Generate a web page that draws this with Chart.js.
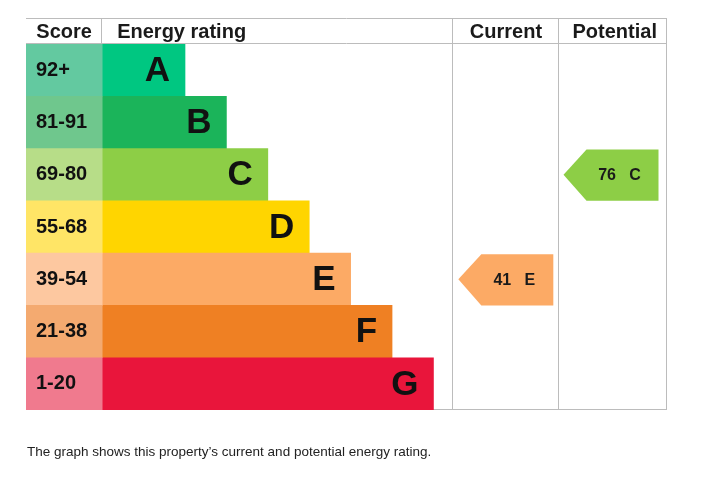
<!DOCTYPE html>
<html>
<head>
<meta charset="utf-8">
<script src="https://cdn.jsdelivr.net/npm/chart.js@4.4.0/dist/chart.umd.min.js"></script>
<style>
  html, body { margin: 0; padding: 0; background: #fff; }
  #wrap { position: relative; width: 711px; height: 485px; }
  #caption {
    position: absolute; left: 27px; top: 444px;
    font: 13.5px "Liberation Sans", Arial, sans-serif; color: #222;
  }
</style>
</head>
<body>
<div id="wrap">
  <canvas id="epc"></canvas>
  <div id="caption">The graph shows this property’s current and potential energy rating.</div>
</div>
<script>
// Bands, score ranges and colours
const bands = ['A', 'B', 'C', 'D', 'E', 'F', 'G'];
const scoreLabels = ['92+', '81-91', '69-80', '55-68', '39-54', '21-38', '1-20'];
const bandMin = [92, 81, 69, 55, 39, 21, 1];
const barLengths = [2, 3, 4, 5, 6, 7, 8];
const barColors = ['#00c781', '#1bb45a', '#8dce46', '#ffd500', '#fcaa65', '#ef8023', '#e9153b'];
const scoreColors = ['#63c9a0', '#6fc78d', '#b7dd88', '#ffe566', '#fdc8a0', '#f4aa70', '#f07a8e'];

// Current / potential ratings
const currentScore = 41;
const potentialScore = 76;

// Column edges in x-axis units: score | energy rating | current | potential
const colEdges = [0, 1.84, 10.32, 12.86, 15.48];
const headers = ['Score', 'Energy rating', 'Current', 'Potential'];

const FONT = '"Liberation Sans", Arial, sans-serif';
const gridColor = '#bcbcbc';

const bandOf = (score) => bandMin.findIndex(m => score >= m);

// grid lines + headers, drawn under the bars
const tablePlugin = {
  id: 'table',
  beforeDatasetsDraw(chart) {
    const { ctx, chartArea: a, scales: { x } } = chart;
    const top = 18;
    ctx.save();
    ctx.strokeStyle = gridColor;
    ctx.lineWidth = 1;
    ctx.beginPath();
    ctx.moveTo(a.left, top + 0.5); ctx.lineTo(a.right, top + 0.5);
    ctx.moveTo(a.left, a.top - 0.5); ctx.lineTo(a.right, a.top - 0.5);
    ctx.moveTo(a.left, a.bottom - 0.5); ctx.lineTo(a.right, a.bottom - 0.5);
    const xs = colEdges.slice(1).map(v => Math.round(x.getPixelForValue(v)) - 0.5);
    ctx.moveTo(xs[0], top); ctx.lineTo(xs[0], a.top);
    for (let i = 1; i < xs.length; i++) {
      ctx.moveTo(xs[i], top); ctx.lineTo(xs[i], a.bottom);
    }
    ctx.stroke();

    ctx.fillStyle = '#1a1a1a';
    ctx.font = 'bold 20px ' + FONT;
    ctx.textBaseline = 'middle';
    const hy = (top + a.top) / 2 + 1;
    const px = colEdges.map(v => x.getPixelForValue(v));
    ctx.textAlign = 'center';
    ctx.fillText(headers[0], (px[0] + px[1]) / 2, hy);
    ctx.textAlign = 'left';
    ctx.fillText(headers[1], px[1] + 15, hy);
    ctx.textAlign = 'center';
    ctx.fillText(headers[2], (px[2] + px[3]) / 2, hy);
    ctx.fillText(headers[3], (px[3] + px[4]) / 2 + 2, hy);
    ctx.restore();
  }
};

// letters, score labels and the rating arrows
const labelPlugin = {
  id: 'labels',
  afterDatasetsDraw(chart) {
    const { ctx, scales: { x, y } } = chart;
    const rowH = y.getPixelForValue(1) - y.getPixelForValue(0);
    ctx.save();
    ctx.textBaseline = 'middle';
    ctx.fillStyle = '#111';
    bands.forEach((b, i) => {
      const cy = y.getPixelForValue(i);
      ctx.font = 'bold 20px ' + FONT;
      ctx.textAlign = 'left';
      ctx.fillText(scoreLabels[i], x.getPixelForValue(colEdges[0]) + 10, cy);
      ctx.font = 'bold 35px ' + FONT;
      ctx.textAlign = 'right';
      ctx.fillText(b, x.getPixelForValue(colEdges[1] + barLengths[i]) - 15, cy + 1);
    });

    const drawArrow = (score, colIdx) => {
      const i = bandOf(score);
      const cy = y.getPixelForValue(i);
      const t = cy - rowH / 2 + 1, btm = cy + rowH / 2;
      const left = x.getPixelForValue(colEdges[colIdx]);
      const tip = left + 5, right = left + 100, body = tip + 23;
      ctx.fillStyle = barColors[i];
      ctx.beginPath();
      ctx.moveTo(tip, cy);
      ctx.lineTo(body, t);
      ctx.lineTo(right, t);
      ctx.lineTo(right, btm);
      ctx.lineTo(body, btm);
      ctx.closePath();
      ctx.fill();
      ctx.fillStyle = '#1a1a1a';
      ctx.font = 'bold 16px ' + FONT;
      ctx.textAlign = 'center';
      ctx.fillText(score + '   ' + bands[i], (body + right) / 2 - 3, cy + 1);
    };
    drawArrow(currentScore, 2);
    drawArrow(potentialScore, 3);
    ctx.restore();
  }
};

new Chart(document.getElementById('epc').getContext('2d'), {
  type: 'bar',
  data: {
    labels: bands,
    datasets: [
      {
        label: 'Score',
        data: bands.map(() => [colEdges[0], colEdges[1]]),
        backgroundColor: scoreColors,
        grouped: false,
        barPercentage: 1,
        categoryPercentage: 1,
        borderWidth: 0
      },
      {
        label: 'Energy rating',
        data: barLengths.map(l => [colEdges[1], colEdges[1] + l]),
        backgroundColor: barColors,
        grouped: false,
        barPercentage: 1,
        categoryPercentage: 1,
        borderWidth: 0
      }
    ]
  },
  options: {
    indexAxis: 'y',
    responsive: true,
    maintainAspectRatio: false,
    animation: false,
    layout: { padding: { left: 26, right: 44, top: 44, bottom: 75 } },
    plugins: { legend: { display: false }, tooltip: { enabled: false } },
    scales: {
      x: { type: 'linear', min: colEdges[0], max: colEdges[colEdges.length - 1], display: false },
      y: { type: 'category', display: false }
    }
  },
  plugins: [tablePlugin, labelPlugin]
});
</script>
</body>
</html>
